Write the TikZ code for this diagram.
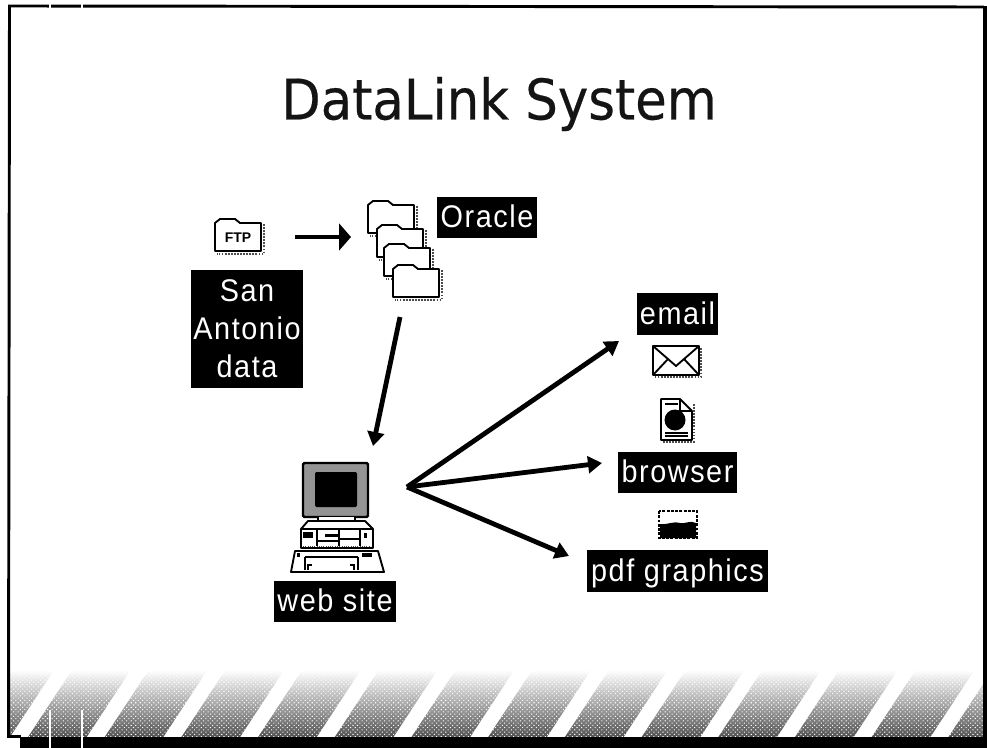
\documentclass[tikz,border=0pt]{standalone}
\usepackage{fontspec}
\usetikzlibrary{arrows.meta,patterns.meta}
\setmainfont{Liberation Sans}
\newfontfamily\titlefont[FakeStretch=0.917,FakeBold=0.4]{DejaVu Sans}
\newfontfamily\tagfont[LetterSpace=5,FakeStretch=0.92]{Liberation Sans}
\tikzset{
  tagblock/.style={fill=black,text=white,inner sep=0pt,align=center,
    font=\tagfont\fontsize{23.5}{28.5}\selectfont},
  tag/.style={tagblock,text height=23.2pt,text depth=7.8pt},
  flow/.style={line width=3.6pt,-{Triangle[length=10.5pt,width=12.5pt]}},
  speck/.style={densely dotted,line width=1.3pt,black!70},
  icon/.style={draw=black,fill=white,line width=1.4pt,line join=round}
}
\begin{document}
\begin{tikzpicture}[x=0.75pt,y=-0.75pt]
\useasboundingbox (0,0) rectangle (987,748);

% Striped band along the bottom of the slide
\begin{scope}
\clip (10,670) rectangle (983,737);
\foreach \k in {0,...,13} {
  \shade[top color=white,bottom color=black!68]
    ({-48.7+76.7*\k},737) -- ({10+76.7*\k},737) -- ({54+76.7*\k},670) -- ({-4.7+76.7*\k},670) -- cycle;
  \fill[pattern={Dots[distance=2.4pt,radius=.55pt,angle=45]},pattern color=white]
    ({-48.7+76.7*\k},737) -- ({10+76.7*\k},737) -- ({54+76.7*\k},670) -- ({-4.7+76.7*\k},670) -- cycle;
}
\end{scope}

% Slide frame with its heavy right and bottom edges
\draw[line width=2.2pt] (8.5,737) -- (9.5,6) -- (984,7);
\fill (7,735) rectangle (21,738);
\fill (20,737) rectangle (987,748);
\fill (983,6) rectangle (987,748);
\draw[white,line width=1pt] (50,3) -- (50,9);
\draw[white,line width=1pt] (82,3) -- (82,9);
\draw[white,line width=1pt] (50,710) -- (50,748);
\draw[white,line width=1pt] (82,710) -- (82,748);

% Title
\node[font=\titlefont\fontsize{42}{46}\selectfont,text=black!92] (title) at (499,104) {DataLink System};

% FTP folder and the stack of Oracle folders
\foreach \fx/\fy in {215/223,368/205,377/229,384/248,393/269} {
  \begin{scope}[shift={(\fx,\fy)}]
  \draw[speck] (49,1) -- (49,31) -- (2,31);
  \draw[icon] (0,28) -- (0,0) -- (5,-4) -- (20,-4) -- (25,0) -- (46,0) -- (46,28) -- cycle;
  \draw[line width=2pt] (25,0) -- (46,0);
  \end{scope}
}
\node[font=\bfseries\fontsize{10.5}{12}\selectfont,inner sep=0pt] (ftplabel) at (238,238) {FTP};

% Computer: monitor, stand, base and keyboard
\draw[fill=black!42,draw=black,line width=1.8pt,rounded corners=1pt] (303,463) rectangle (368,517);
\fill[rounded corners=1pt] (315,472) rectangle (357,507);
\draw[icon] (318,517) -- (318,527) -- (355,527) -- (355,517);
\draw[speck,black] (322,524) -- (351,524);
\draw[icon] (301,548) -- (301,529) -- (308,521) -- (318,521) -- (355,521) -- (365,521) -- (373,529) -- (373,548) -- cycle;
\draw[line width=1pt] (301,529) -- (373,529);
\fill (303,532) rectangle (313,538);
\fill (325,534) rectangle (338,537);
\draw[line width=.9pt] (317,530) -- (317,546) (339,530) -- (339,546) (360,530) -- (360,546);
\draw[line width=.9pt] (317,541) -- (339,541) (340,539) -- (359,539);
\fill (364,533) rectangle (367,538);
\draw[speck,line width=.7pt] (303,546) -- (371,546);
\draw[icon] (295,551) -- (378,551) -- (384,572) -- (291,572) -- cycle;
\draw[line width=1pt] (305,557) -- (358,557) (305,570) -- (305,557) (358,557) -- (358,570);
\draw[line width=1pt] (308,570) -- (308,565) -- (312,565) (350,565) -- (354,565) -- (354,570);
\fill (362,553) rectangle (372,557);
\fill (297,553) rectangle (300,557);

% Envelope
\draw[speck] (701,348) -- (701,377) -- (655,377);
\draw[icon] (653,346) rectangle (699,375);
\draw[line width=1.4pt] (653,346) -- (676,366) -- (699,346);
\draw[line width=1.4pt] (653,375) -- (668,359) (699,375) -- (684,359);

% Document page
\draw[speck] (694,404) -- (694,442) -- (663,442);
\draw[icon] (661,399) -- (680,399) -- (692,411) -- (692,440) -- (661,440) -- cycle;
\draw[line width=1pt] (680,399) -- (680,411) -- (692,411);
\draw[line width=1pt] (665,404) -- (678,404) (665,433) -- (688,433) (665,436) -- (688,436);
\fill (675,420) circle (10.5);

% Graphics picture
\draw[speck,black,line width=2.2pt] (659,511) rectangle (697,538);
\fill (660,524) .. controls (668,525) and (672,521) .. (680,523) .. controls (686,524) and (690,520) .. (696,523) -- (696,538) -- (660,538) -- cycle;

% Labels on black
\node[tagblock,minimum width=84pt,minimum height=88.5pt] (sanantonio) at (247,329) {San\\Antonio\\data};
\node[tag,minimum width=75pt] (oracle) at (487,217.5) {Oracle};
\node[tag,minimum width=91.5pt] (website) at (335,601.5) {web site};
\node[tag,minimum width=60.75pt] (email) at (677.5,314) {email};
\node[tag,minimum width=89.25pt] (browser) at (677.5,472.5) {browser};
\node[tag,minimum width=135.75pt] (pdfgraphics) at (677.5,571) {pdf graphics};

% Arrow ends
\coordinate (ftpout) at (295,237);
\coordinate (stackin) at (351,237);
\coordinate (stackout) at (400,317);
\coordinate (sitein) at (373,446);
\coordinate (hub) at (407,487);
\coordinate (emailin) at (619,341);
\coordinate (browserin) at (602,463);
\coordinate (pdfin) at (569,556);

\draw[flow,-{Triangle[length=9pt,width=20pt]}] (ftpout) -- (stackin);
\draw[flow] (stackout) -- (sitein);
\draw[flow] (hub) -- (emailin);
\draw[flow] (hub) -- (browserin);
\draw[flow] (hub) -- (pdfin);

\end{tikzpicture}
\end{document}
